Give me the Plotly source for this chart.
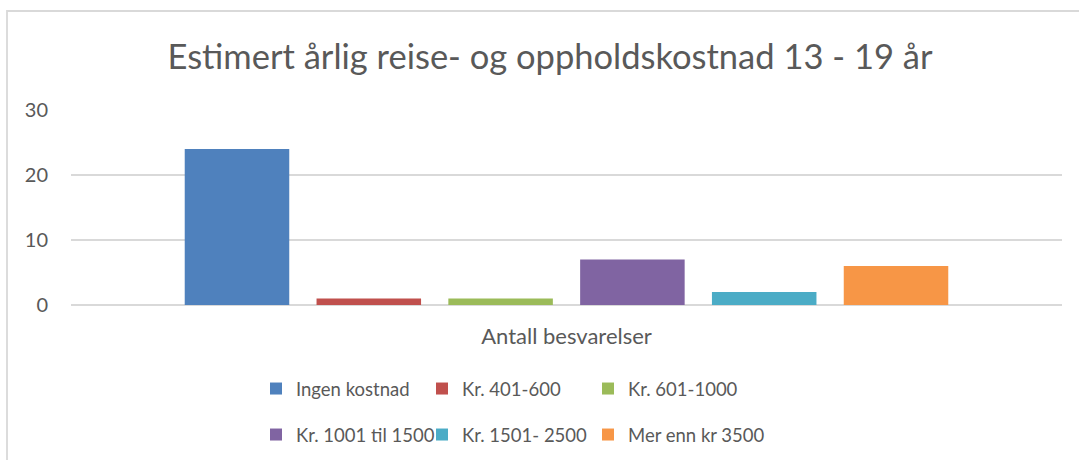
import plotly.graph_objects as go

categories = ["Antall besvarelser"]
series_names = ["Ingen kostnad", "Kr. 401-600", "Kr. 601-1000",
                "Kr. 1001 til 1500", "Kr. 1501- 2500", "Mer enn kr 3500"]
series_values = [24, 1, 1, 7, 2, 6]
series_colors = ["#4F81BD", "#C0504D", "#9BBB59", "#8064A2", "#4BACC6", "#F79646"]
y_ticks = [0, 10, 20, 30]
title_text = "Estimert årlig reise- og oppholdskostnad 13 - 19 år"

FONT = "Lato"
TXT = "#595959"

W, H = 1079, 460
L, R, T, B = 71, 17, 110, 155
pw, ph = W - L - R, H - T - B

def px_x(x):
    return (x - L) / pw

def px_y(y):
    return (H - B - y) / ph

# legend grid: 3 columns x 2 rows
leg_cols_px = [256, 422, 588]
leg_rows_px = [389, 435]

fig = go.Figure()
legend_layout = {}
for i, (name, val, col) in enumerate(zip(series_names, series_values, series_colors)):
    lid = "legend" if i == 0 else f"legend{i + 1}"
    fig.add_trace(go.Bar(
        x=categories, y=[val], name=name, marker_color=col,
        marker_line_width=0, legend=lid, hoverinfo="skip",
    ))
    legend_layout[lid] = dict(
        x=px_x(leg_cols_px[i % 3]), y=px_y(leg_rows_px[i // 3]),
        xanchor="left", yanchor="middle", orientation="v",
        font=dict(family=FONT, size=18.5, color=TXT),
        bgcolor="rgba(0,0,0,0)", borderwidth=0,
        itemclick=False, itemdoubleclick=False,
    )

fig.update_layout(
    width=W, height=H,
    margin=dict(l=L, r=R, t=T, b=B, pad=0, autoexpand=False),
    paper_bgcolor="white", plot_bgcolor="white",
    barmode="group", bargap=0.202, bargroupgap=0.207,
    title=dict(text=title_text, x=px_x(550), xref="paper", xanchor="center",
               y=1 - 57 / H, yanchor="middle",
               font=dict(family=FONT, size=34.5, color=TXT)),
    font=dict(family=FONT, color=TXT),
    showlegend=True,
    xaxis=dict(
        showline=False, showgrid=False, zeroline=False, automargin=False,
        ticks="", tickfont=dict(family=FONT, size=22, color=TXT),
        ticklabelstandoff=16,
    ),
    yaxis=dict(
        range=[0, 30], tickvals=y_ticks, showgrid=True, automargin=False,
        gridcolor="#D9D9D9", gridwidth=1.5,
        zeroline=True, zerolinecolor="#D9D9D9", zerolinewidth=1.5,
        showline=False, ticks="",
        tickfont=dict(family=FONT, size=20, color=TXT),
        ticklabelstandoff=22,
    ),
    **legend_layout,
)

# outer chart border (left and top edges visible)
fig.add_shape(type="rect", xref="paper", yref="paper",
              x0=px_x(7), x1=px_x(1090), y0=px_y(470), y1=px_y(11),
              line=dict(color="#D9D9D9", width=1.8), fillcolor="rgba(0,0,0,0)",
              layer="below")

fig.write_html("out.html", config={"displayModeBar": False},
               post_script="document.body.style.margin='0';")
